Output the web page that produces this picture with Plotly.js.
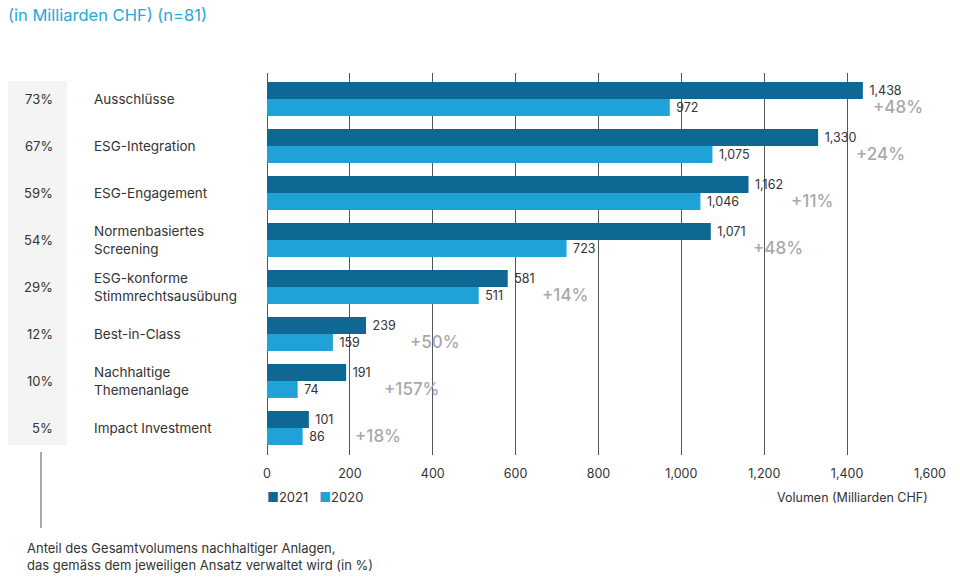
<!DOCTYPE html>
<html>
<head>
<meta charset="utf-8">
<script src="https://cdn.plot.ly/plotly-3.0.1.min.js"></script>
<style>html,body{margin:0;padding:0;background:#fff;}#chart{width:960px;height:586px;}</style>
</head>
<body>
<div id="chart"></div>
<script>
const categories = ["Ausschlüsse", "ESG-Integration", "ESG-Engagement", "Normenbasiertes<br>Screening", "ESG-konforme<br>Stimmrechtsausübung", "Best-in-Class", "Nachhaltige<br>Themenanlage", "Impact Investment"];
const values2021 = [1438, 1330, 1162, 1071, 581, 239, 191, 101];
const values2020 = [972, 1075, 1046, 723, 511, 159, 74, 86];
const growthLabels = ["+48%", "+24%", "+11%", "+48%", "+14%", "+50%", "+157%", "+18%"];
const shareLabels = ["73%", "67%", "59%", "54%", "29%", "12%", "10%", "5%"];
const tickValues = [0, 200, 400, 600, 800, 1000, 1200, 1400, 1600];
const seriesNames = ["2021", "2020"];

const FONT = "Inter, 'Noto Sans', sans-serif";
const dark = "#0f6894", light = "#1ea2d8";

// geometry helpers (pixels -> paper fractions)
const L = 267, R = 930, T = 73, B = 455;
const px = x => (x - L) / (R - L);
const py = y => (B - y) / (B - T);

const fmt = v => "\u00a0" + v.toLocaleString("en-US");
const traces = [
  {type: "bar", orientation: "h", name: seriesNames[0], y: categories, x: values2021,
   marker: {color: dark}, text: values2021.map(fmt),
   textposition: "outside", textfont: {family: FONT, size: 12.5, color: "#333"}, cliponaxis: false, hoverinfo: "x"},
  {type: "bar", orientation: "h", name: seriesNames[1], y: categories, x: values2020,
   marker: {color: light}, text: values2020.map(fmt),
   textposition: "outside", textfont: {family: FONT, size: 12.5, color: "#333"}, cliponaxis: false, hoverinfo: "x"}
];

const growthShift = [8, 36, 40, 40, 32, 42, 36, 44];
const annotations = [];
categories.forEach((c, i) => {
  annotations.push({xref: "paper", yref: "y", x: px(55), y: c, xanchor: "right", yanchor: "middle",
    text: shareLabels[i], showarrow: false, font: {family: FONT, size: 13, color: "#333"}});
  annotations.push({xref: "paper", yref: "y", x: px(92), y: c, xanchor: "left", yanchor: "middle", align: "left",
    text: c, showarrow: false, font: {family: FONT, size: 13.5, color: "#333"}});
  annotations.push({xref: "x", yref: "y", x: values2021[i], y: c, xanchor: "left", yanchor: "middle",
    xshift: growthShift[i], yshift: -8, text: growthLabels[i], showarrow: false,
    font: {family: FONT, size: 17, color: "#a9a9a9", weight: 500}});
});
annotations.push({xref: "paper", yref: "paper", x: 1, y: py(497), xanchor: "right", yanchor: "middle",
  text: "Volumen (Milliarden CHF)", showarrow: false, font: {family: FONT, size: 12.5, color: "#333"}});
annotations.push({xref: "paper", yref: "paper", x: px(25), y: py(556), xanchor: "left", yanchor: "middle", align: "left",
  text: "Anteil des Gesamtvolumens nachhaltiger Anlagen,<br>das gemäss dem jeweiligen Ansatz verwaltet wird (in %)",
  showarrow: false, font: {family: FONT, size: 13, color: "#333"}});
// compact legend
annotations.push({xref: "paper", yref: "paper", x: px(265), y: py(497), xanchor: "left", yanchor: "middle",
  text: '<span style="color:' + dark + '">■</span>' + seriesNames[0] + '   <span style="color:' + light + '">■</span>' + seriesNames[1],
  showarrow: false, font: {family: FONT, size: 13, color: "#333"}});

const shapes = [
  {type: "rect", xref: "paper", yref: "paper", x0: px(8), x1: px(67), y0: py(445), y1: py(81),
   fillcolor: "#f4f4f4", line: {width: 0}, layer: "below"},
  {type: "line", xref: "paper", yref: "paper", x0: px(41), x1: px(41), y0: py(452), y1: py(528),
   line: {color: "#555", width: 1}}
];

const layout = {
  width: 960, height: 586,
  margin: {l: L, r: 960 - R, t: T, b: 586 - B, pad: 0},
  paper_bgcolor: "#fff", plot_bgcolor: "#fff",
  font: {family: FONT, size: 13, color: "#333"},
  title: {text: "(in Milliarden CHF) (n=81)", x: 8 / 960, xanchor: "left", y: 1 - 15 / 586, yanchor: "middle",
    font: {family: FONT, size: 16.5, color: "#2aa6d9"}},
  barmode: "group", bargap: 0.28, bargroupgap: 0,
  showlegend: false,
  xaxis: {range: [0, 1600], tickvals: tickValues, tickformat: ",d", showgrid: true, gridcolor: "#555", gridwidth: 1,
    zeroline: true, zerolinecolor: "#555", zerolinewidth: 1, showline: false, ticks: "", ticklabelstandoff: 9,
    tickfont: {family: FONT, size: 12.5, color: "#333"}, fixedrange: true},
  yaxis: {type: "category", range: [7.574, -0.553], showticklabels: false, showgrid: false, zeroline: false,
    ticks: "", fixedrange: true},
  annotations: annotations, shapes: shapes
};

Plotly.newPlot("chart", traces, layout, {displayModeBar: false, staticPlot: true});
</script>
</body>
</html>
